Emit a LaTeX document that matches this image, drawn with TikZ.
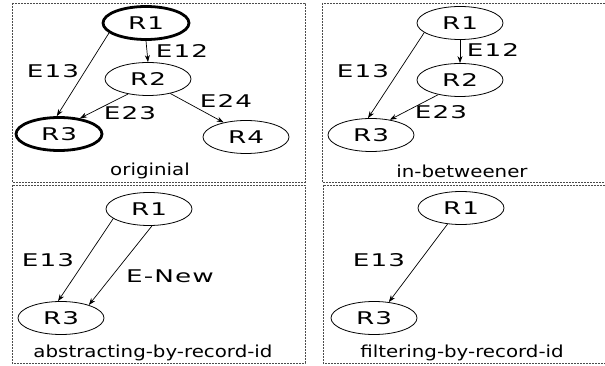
\documentclass[tikz,border=0pt]{standalone}
\usepackage{fontspec}
\usepackage{tikz}
\usetikzlibrary{shapes.geometric,arrows.meta}
\newfontfamily\capfont[FakeStretch=1.2]{DejaVu Sans}
\newfontfamily\lblfont[FakeStretch=1.5,LetterSpace=6]{DejaVu Sans}

\begin{document}
\begin{tikzpicture}[x=1pt, y=-1pt, >={Stealth[length=7pt,width=5pt]},
		rec/.style={ellipse, draw, line width=0.8pt, minimum width=86pt, minimum height=33pt, inner sep=0pt, font=\lblfont\fontsize{17.5}{19}\selectfont},
		bold/.style={line width=2.8pt},
		lbl/.style={inner sep=0pt, font=\lblfont\fontsize{17.5}{19}\selectfont},
		caption/.style={inner sep=0pt, font=\capfont\fontsize{16.5}{18}\selectfont},
		conn/.style={->, line width=0.7pt},
		panel/.style={line width=0.9pt, color=black!70, dash pattern=on 2pt off 1pt}]
		\useasboundingbox (0,0) rectangle (605,366);
		\clip (0,0) rectangle (605,366);
		% panels
		\draw [panel] (12,3) rectangle (305,182);
		\draw [panel] (322,3) rectangle (607,182);
		\draw [panel] (12,185) rectangle (305,363);
		\draw [panel] (323,185) rectangle (607,363);
		% originial
		\node [rec, bold] (a1) at (146,23) {R1};
		\node [rec] (a2) at (148,79) {R2};
		\node [rec, bold] (a3) at (59,134) {R3};
		\node [rec] (a4) at (246,137) {R4};
		\draw [conn] (a1.195) -- (a3.97);
		\draw [conn] (a1.south) -- (a2.north);
		\draw [conn] (a2.217) -- (a3.37);
		\draw [conn] (a2.327) -- (a4.147);
		\node [lbl] (a13) at (53,71) {E13};
		\node [lbl] (a12) at (182,51) {E12};
		\node [lbl] (a23) at (130,113) {E23};
		\node [lbl] (a24) at (226,101) {E24};
		\node [caption] (acap) at (150,171) {originial};
		% in-betweener
		\node [rec] (b1) at (460,23) {R1};
		\node [rec] (b2) at (460,80) {R2};
		\node [rec] (b3) at (371,135) {R3};
		\draw [conn] (b1.195) -- (b3.100);
		\draw [conn] (b1.south) -- (b2.north);
		\draw [conn] (b2.214) -- (b3.39);
		\node [lbl] (b13) at (363,71) {E13};
		\node [lbl] (b12) at (493,50) {E12};
		\node [lbl] (b23) at (441,112) {E23};
		\node [caption] (bcap) at (462,171) {in-betweener};
		% abstracting-by-record-id
		\node [rec] (c1) at (149,209) {R1};
		\node [rec] (c3) at (61,318) {R3};
		\draw [conn] (c1.195) -- (c3.100);
		\draw [conn] (c1.280) -- (c3.25);
		\node [lbl] (c13) at (48,260) {E13};
		\node [lbl] (cnew) at (170,276) {E-New};
		\node [caption] (ccap) at (153,353) {abstracting-by-record-id};
		% filtering-by-record-id
		\node [rec] (d1) at (461,208) {R1};
		\node [rec] (d3) at (374,318) {R3};
		\draw [conn] (d1.230) -- (d3.47);
		\node [lbl] (d13) at (379,260) {E13};
		\node [caption] (dcap) at (462,353) {filtering-by-record-id};
	\end{tikzpicture}
\end{document}
